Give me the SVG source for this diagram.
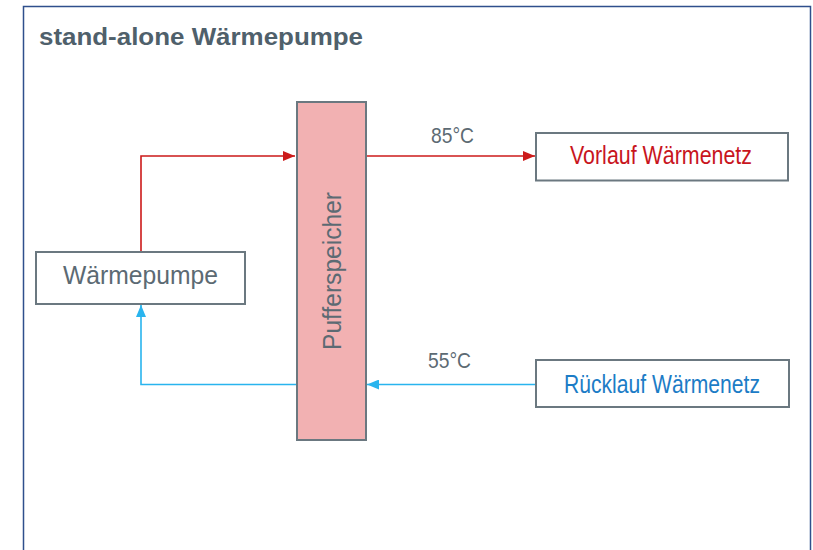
<svg xmlns="http://www.w3.org/2000/svg" width="813" height="550" viewBox="0 0 813 550">
  <defs>
    <style>
      .box { fill: #ffffff; stroke: #6b7880; stroke-width: 2; }
      .lbl { font-family: "Liberation Sans", Arial, sans-serif; fill: #5c6a73; }
      .red { stroke: #cc1a1a; stroke-width: 1.6; fill: none; }
      .blue { stroke: #29b4ee; stroke-width: 1.6; fill: none; }
    </style>
    <marker id="ar" viewBox="0 0 12 10" refX="12" refY="5" markerWidth="12" markerHeight="10" markerUnits="userSpaceOnUse" orient="auto">
      <path d="M0,0 L12,5 L0,10 Z" fill="#cc1a1a"/>
    </marker>
    <marker id="ab" viewBox="0 0 12 10" refX="12" refY="5" markerWidth="12" markerHeight="10" markerUnits="userSpaceOnUse" orient="auto">
      <path d="M0,0 L12,5 L0,10 Z" fill="#29b4ee"/>
    </marker>
  </defs>
  <rect x="0" y="0" width="813" height="550" fill="#ffffff"/>
  <path d="M23.5,560 V6.5 H810.5 V560" fill="none" stroke="#2f4f8c" stroke-width="1.5"/>
  <text x="39" y="45" font-family="'Liberation Sans', Arial, sans-serif" font-weight="bold" font-size="24" fill="#4f606b" textLength="324" lengthAdjust="spacingAndGlyphs">stand-alone Wärmepumpe</text>

  <g id="connectors">
    <path class="red" d="M141,252 V156 H295" marker-end="url(#ar)"/>
    <path class="red" d="M366,156 H535" marker-end="url(#ar)"/>
    <path class="blue" d="M536,384.5 H367" marker-end="url(#ab)"/>
    <path class="blue" d="M296,384.5 H141 V305" marker-end="url(#ab)"/>
    <text class="lbl" x="431" y="143" font-size="22" textLength="43" lengthAdjust="spacingAndGlyphs">85°C</text>
    <text class="lbl" x="428" y="368" font-size="22" textLength="43" lengthAdjust="spacingAndGlyphs">55°C</text>
  </g>

  <g id="waermepumpe">
    <rect class="box" x="36" y="252" width="209" height="52"/>
    <text class="lbl" x="140.5" y="284" font-size="26" text-anchor="middle" textLength="155" lengthAdjust="spacingAndGlyphs">Wärmepumpe</text>
  </g>

  <g id="pufferspeicher">
    <rect x="297" y="102" width="69" height="338" fill="#f2b1b2" stroke="#6b7880" stroke-width="2"/>
    <text class="lbl" transform="translate(341,271) rotate(-90)" x="0" y="0" font-size="25" text-anchor="middle" textLength="158" lengthAdjust="spacingAndGlyphs">Pufferspeicher</text>
  </g>

  <g id="vorlauf">
    <rect class="box" x="536" y="133" width="252" height="47.5"/>
    <text x="661" y="163.5" font-family="'Liberation Sans', Arial, sans-serif" font-size="25" fill="#c8151d" text-anchor="middle" textLength="182" lengthAdjust="spacingAndGlyphs">Vorlauf Wärmenetz</text>
  </g>

  <g id="ruecklauf">
    <rect class="box" x="536" y="360" width="253" height="47"/>
    <text x="662" y="392.5" font-family="'Liberation Sans', Arial, sans-serif" font-size="25" fill="#1c7cc6" text-anchor="middle" textLength="196" lengthAdjust="spacingAndGlyphs">Rücklauf Wärmenetz</text>
  </g>
</svg>
